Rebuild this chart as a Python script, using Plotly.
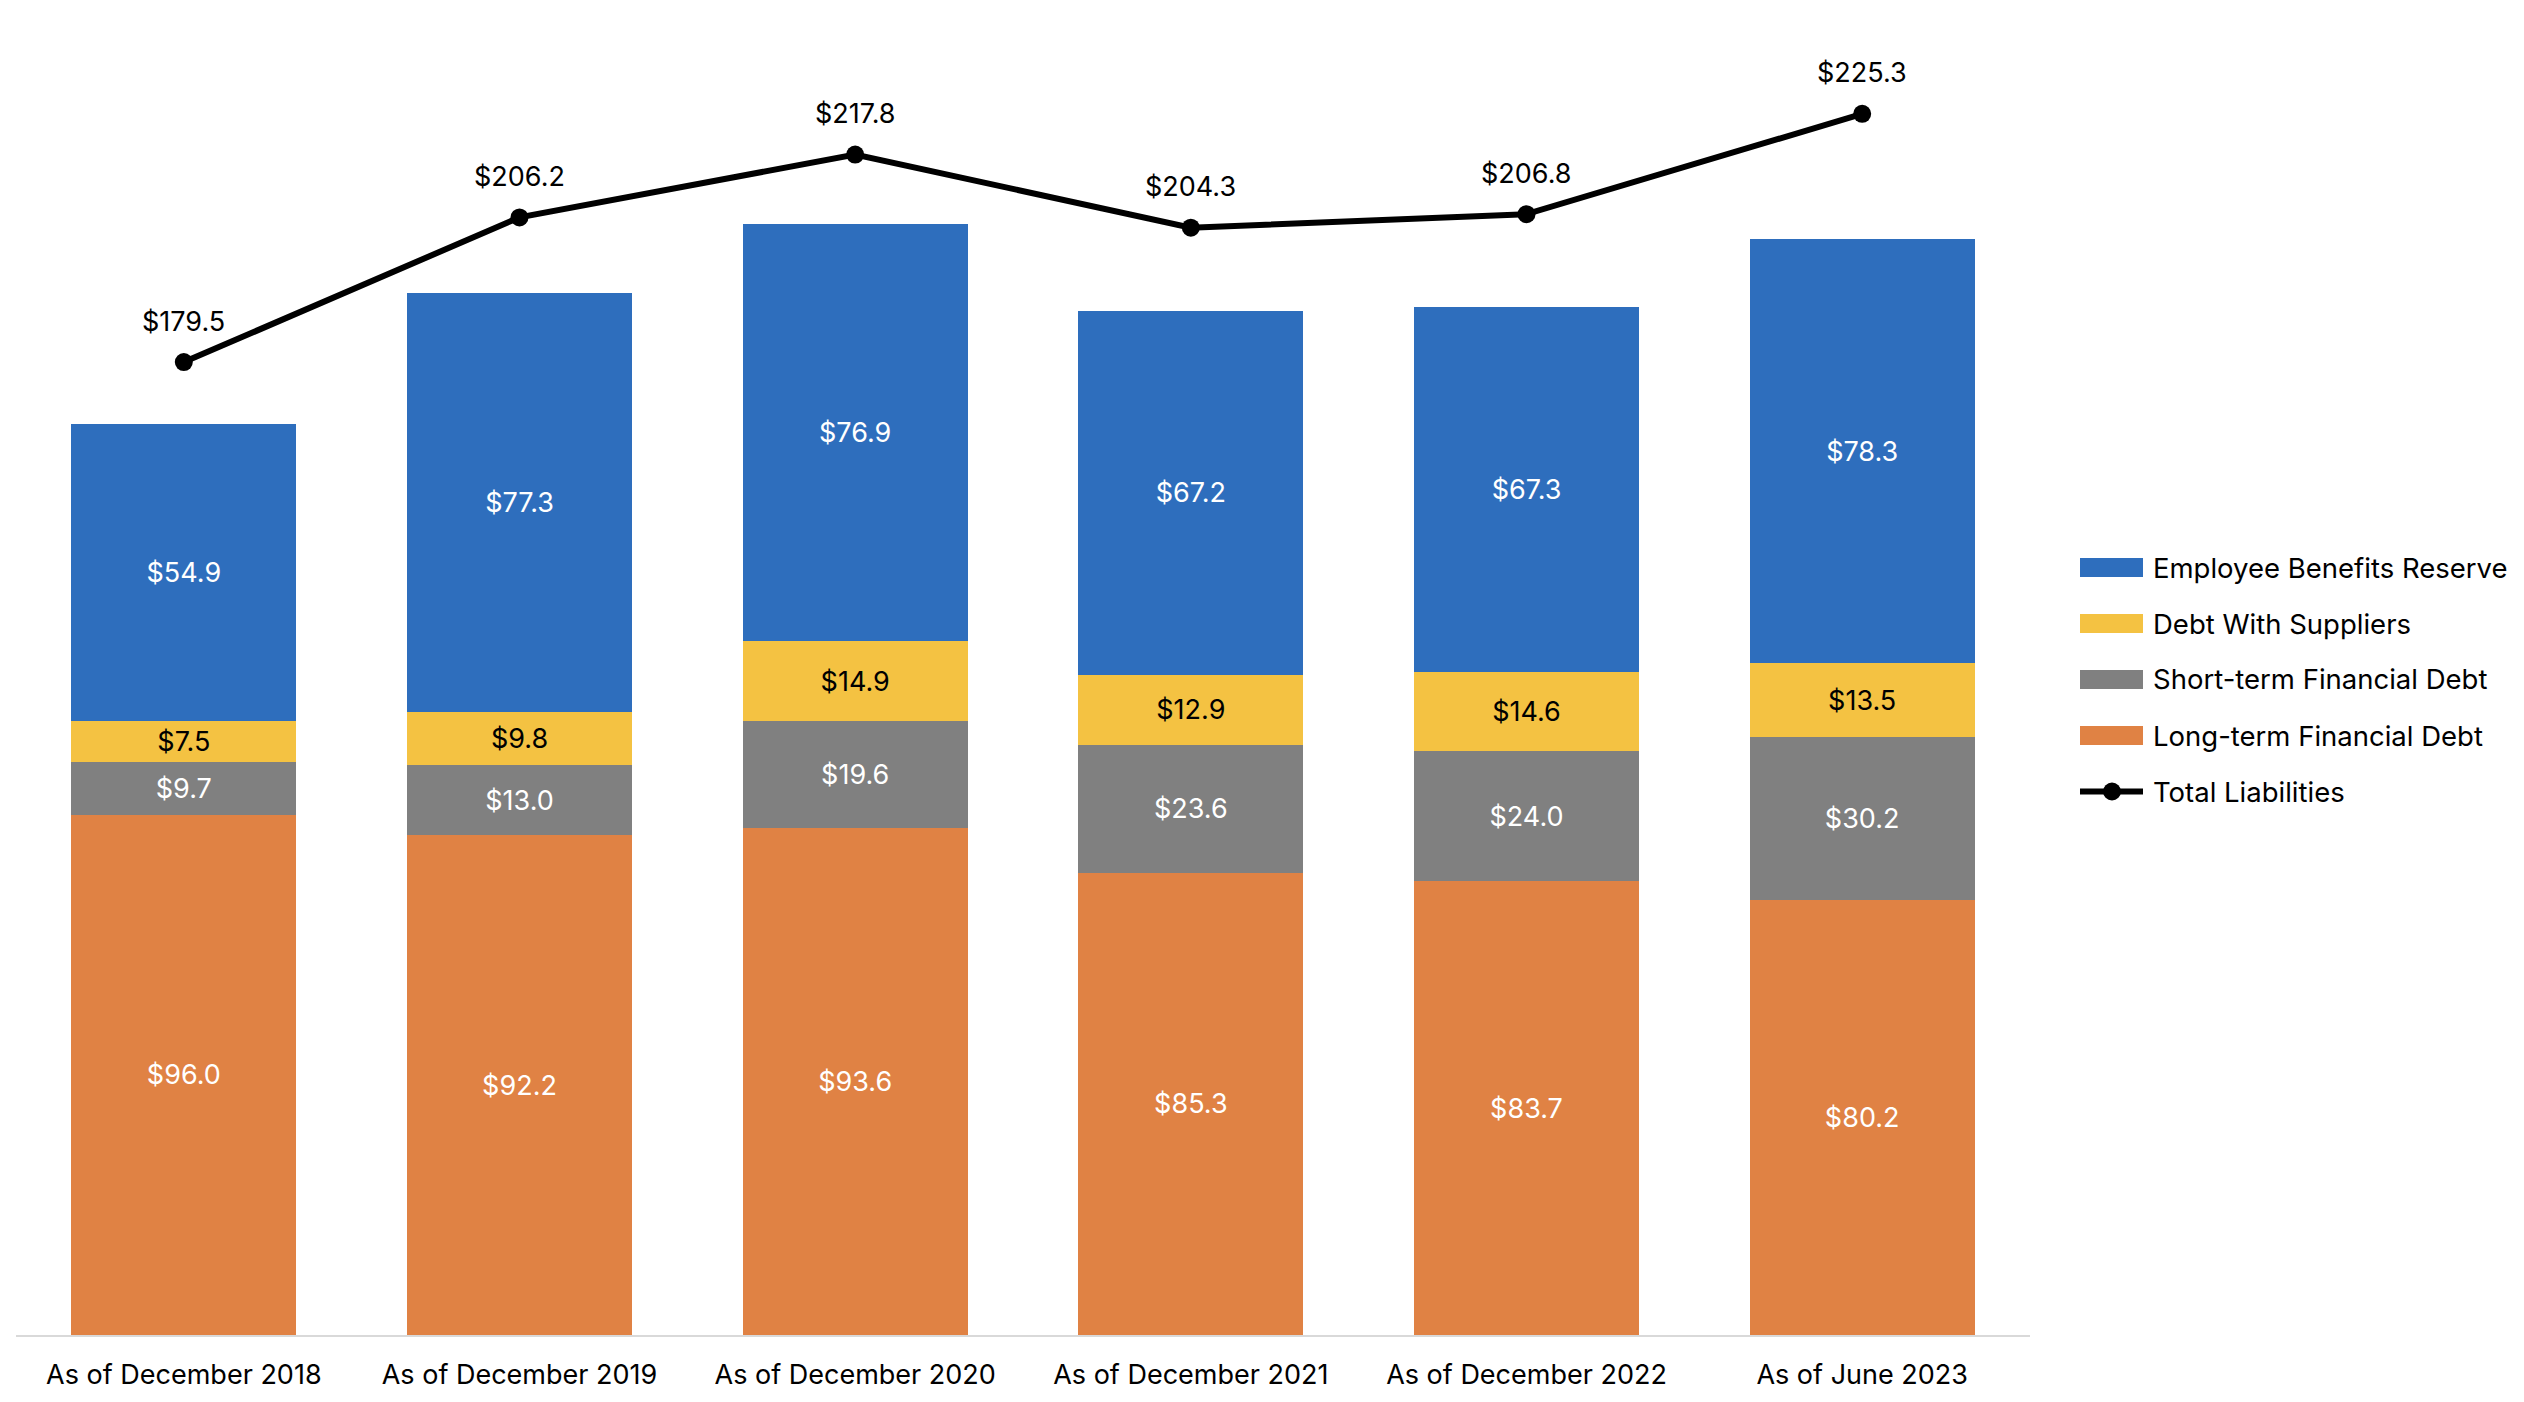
import plotly.graph_objects as go

categories = ["As of December 2018", "As of December 2019", "As of December 2020",
              "As of December 2021", "As of December 2022", "As of June 2023"]
long_term = [96.0, 92.2, 93.6, 85.3, 83.7, 80.2]
short_term = [9.7, 13.0, 19.6, 23.6, 24.0, 30.2]
suppliers = [7.5, 9.8, 14.9, 12.9, 14.6, 13.5]
employee = [54.9, 77.3, 76.9, 67.2, 67.3, 78.3]
total = [179.5, 206.2, 217.8, 204.3, 206.8, 225.3]

C_BLUE = "#2E6EBD"
C_YELLOW = "#F4C242"
C_GRAY = "#808080"
C_ORANGE = "#E08244"
FONT = "Inter"

OFF = 8  # page body margin
W, H = 2524, 1402
# target screen positions: plot x 16..2030, y top 10, baseline 1335
L = 16 - OFF
R = W - 2030 + OFF
T = 10 - OFF
B = H - 1335 + OFF
PW, PH = W - L - R, H - T - B


def px_x(px):
    return (px - OFF - L) / PW


def px_y(py):
    return (H - B - (py - OFF)) / PH


fig = go.Figure()

series = [
    ("Long-term Financial Debt", long_term, C_ORANGE, "white"),
    ("Short-term Financial Debt", short_term, C_GRAY, "white"),
    ("Debt With Suppliers", suppliers, C_YELLOW, "black"),
    ("Employee Benefits Reserve", employee, C_BLUE, "white"),
]
for name, vals, col, tcol in series:
    fig.add_trace(go.Bar(
        x=categories, y=vals, name=name, marker_color=col, marker_line_width=0,
        text=[f"${v:.1f}" for v in vals], textposition="inside",
        insidetextanchor="middle", textangle=0, constraintext="none",
        textfont=dict(family=FONT, size=27, color=tcol),
        showlegend=False, width=0.67,
    ))

fig.add_trace(go.Scatter(
    x=categories, y=total, name="Total Liabilities", mode="lines+markers",
    line=dict(color="black", width=6), marker=dict(color="black", size=18),
    showlegend=False,
))
for c, v in zip(categories, total):
    fig.add_annotation(x=c, y=v, text=f"${v:.1f}", showarrow=False, yshift=41,
                       font=dict(family=FONT, size=27, color="black"))

# custom legend (screen pixel targets)
legend_items = [
    ("Employee Benefits Reserve", C_BLUE),
    ("Debt With Suppliers", C_YELLOW),
    ("Short-term Financial Debt", C_GRAY),
    ("Long-term Financial Debt", C_ORANGE),
]
sx0, sx1, tx = 2080, 2143, 2151
y0c, gap = 567.5, 56
for i, (name, col) in enumerate(legend_items):
    yc = y0c + i * gap
    fig.add_shape(type="rect", xref="paper", yref="paper",
                  x0=px_x(sx0), x1=px_x(sx1), y0=px_y(yc + 9.5), y1=px_y(yc - 9.5),
                  fillcolor=col, line_width=0, layer="above")
    fig.add_annotation(xref="paper", yref="paper", x=px_x(tx), y=px_y(yc),
                       xanchor="left", yanchor="middle", text=name, showarrow=False,
                       font=dict(family=FONT, size=27.5, color="black"))
yc = y0c + 4 * gap
fig.add_shape(type="line", xref="paper", yref="paper",
              x0=px_x(sx0), x1=px_x(sx1), y0=px_y(yc), y1=px_y(yc),
              line=dict(color="black", width=6))
fig.add_shape(type="circle", xref="paper", yref="paper",
              x0=px_x(2112 - 9), x1=px_x(2112 + 9), y0=px_y(yc + 9), y1=px_y(yc - 9),
              fillcolor="black", line_width=0)
fig.add_annotation(xref="paper", yref="paper", x=px_x(tx), y=px_y(yc),
                   xanchor="left", yanchor="middle", text="Total Liabilities", showarrow=False,
                   font=dict(family=FONT, size=27.5, color="black"))

fig.update_layout(
    barmode="stack",
    width=W, height=H,
    margin=dict(l=L, r=R, t=T, b=B, autoexpand=False),
    plot_bgcolor="white", paper_bgcolor="white",
    font=dict(family=FONT, size=27, color="black"),
    showlegend=False,
    xaxis=dict(showline=True, linecolor="#D9D9D9", linewidth=2, ticks="",
               tickfont=dict(family=FONT, size=27, color="black"),
               ticklabelstandoff=15, showgrid=False, automargin=False),
    yaxis=dict(range=[0, PH / 5.42], visible=False, showgrid=False, zeroline=False,
               automargin=False),
)

fig.write_html("out.html")
